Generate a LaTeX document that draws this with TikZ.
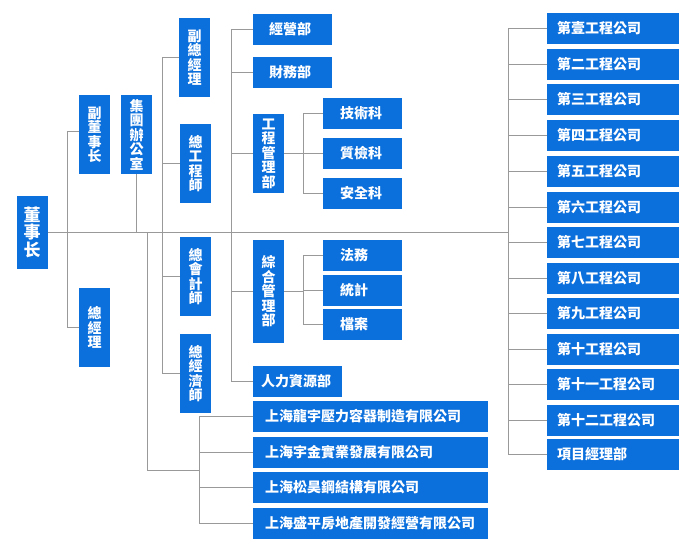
\documentclass[tikz,border=0pt]{standalone}
\usepackage{fontspec}
\newfontfamily\cjk{Noto Sans CJK TC}
\definecolor{boxblue}{RGB}{11,111,220}
\definecolor{linegray}{RGB}{153,153,153}
\tikzset{
  box/.style={fill=boxblue, text=white, inner sep=0pt, minimum height=31pt,
    font=\cjk\bfseries\fontsize{14}{14}\selectfont},
  vbox/.style={box, minimum width=31pt, minimum height=79pt, align=center,
    font=\cjk\bfseries\fontsize{14}{14.5}\selectfont},
  lbox/.style 2 args={box, text width=#1, inner xsep=#2, align=left},
  conn/.style={draw=linegray, line width=1pt},
}
\begin{document}
\begin{tikzpicture}[x=1pt,y=-1pt]
\fill[white] (0,0) rectangle (696,552);
\useasboundingbox (0,0) rectangle (696,552);

% vertical boxes
\node[vbox, minimum height=73pt, font=\cjk\bfseries\fontsize{17}{17.5}\selectfont] (dsz) at (32,232) {董\\事\\长};
\node[vbox] (fdsz) at (94.5,134.5) {副\\董\\事\\长};
\node[vbox] (jtbgs) at (136.5,134.5) {集\\團\\辦\\公\\室};
\node[vbox] (zjl) at (94.5,327.5) {總\\經\\理};
\node[vbox] (fzjl) at (194.5,57.5) {副\\總\\經\\理};
\node[vbox] (zgcs) at (195.5,163.5) {總\\工\\程\\師};
\node[vbox] (zkjs) at (195.5,276.5) {總\\會\\計\\師};
\node[vbox] (zjjs) at (195.5,373.5) {總\\經\\濟\\師};
\node[vbox] (gcglb) at (268.5,153.5) {工\\程\\管\\理\\部};
\node[vbox, minimum height=103pt] (zhglb) at (268.5,291.5) {綜\\合\\管\\理\\部};

% departments
\node[lbox={47pt}{16pt}] (jyb) at (292.5,29) {經營部};
\node[lbox={47pt}{16pt}] (cwb) at (292.5,72.5) {財務部};
\node[lbox={45pt}{17pt}] (jsk) at (362.5,113.5) {技術科};
\node[lbox={45pt}{17pt}] (zjk) at (362.5,153.5) {質檢科};
\node[lbox={45pt}{17pt}] (aqk) at (362.5,193.5) {安全科};
\node[lbox={45pt}{17pt}] (fw) at (362.5,255.5) {法務};
\node[lbox={45pt}{17pt}] (tj) at (362.5,290.5) {統計};
\node[lbox={45pt}{17pt}] (da) at (362.5,324.5) {檔案};
\node[lbox={73pt}{8pt}] (rlzyb) at (297.5,381.5) {人力資源部};

% subsidiaries
\node[lbox={211pt}{12pt}] (c1) at (370.5,416.5) {上海龍宇壓力容器制造有限公司};
\node[lbox={211pt}{12pt}] (c2) at (370.5,452.5) {上海宇金實業發展有限公司};
\node[lbox={211pt}{12pt}] (c3) at (370.5,487.5) {上海松昊鋼結構有限公司};
\node[lbox={211pt}{12pt}] (c4) at (370.5,523.5) {上海盛平房地產開發經營有限公司};

% engineering companies
\node[lbox={112pt}{10pt}] (r1) at (613,28.5) {第壹工程公司};
\node[lbox={112pt}{10pt}] (r2) at (613,64.5) {第二工程公司};
\node[lbox={112pt}{10pt}] (r3) at (613,99.5) {第三工程公司};
\node[lbox={112pt}{10pt}] (r4) at (613,135.5) {第四工程公司};
\node[lbox={112pt}{10pt}] (r5) at (613,171.5) {第五工程公司};
\node[lbox={112pt}{10pt}] (r6) at (613,207.5) {第六工程公司};
\node[lbox={112pt}{10pt}] (r7) at (613,242.5) {第七工程公司};
\node[lbox={112pt}{10pt}] (r8) at (613,278.5) {第八工程公司};
\node[lbox={112pt}{10pt}] (r9) at (613,313.5) {第九工程公司};
\node[lbox={112pt}{10pt}] (r10) at (613,349.5) {第十工程公司};
\node[lbox={112pt}{10pt}] (r11) at (613,384.5) {第十一工程公司};
\node[lbox={112pt}{10pt}] (r12) at (613,420.5) {第十二工程公司};
\node[lbox={112pt}{10pt}] (r13) at (613,454.5) {項目經理部};

% junctions
\coordinate (m67) at (67,232);
\coordinate (m147) at (147,232);
\coordinate (m162) at (162,232);
\coordinate (m231) at (231,232);
\coordinate (m508) at (508,232);
\coordinate (cb) at (147,470);
\coordinate (cj) at (199,470);
\coordinate (g303) at (303,153.5);
\coordinate (h303) at (303,291.5);

% connectors
\draw[conn] (dsz.east) -- (m508);
\draw[conn] ([yshift=3.5pt]fdsz.west) -| (m67);
\draw[conn] (zjl.west) -| (m67);
\draw[conn] (jtbgs.south) -- (jtbgs.south |- m67);
\draw[conn] (m147) -- (cb) -- (cj);
\foreach \n in {c1,c2,c3,c4} \draw[conn] (\n.west) -| (cj);
\foreach \n in {fzjl,zgcs,zkjs,zjjs} \draw[conn] (\n.west) -| (m162);
\foreach \n in {jyb,cwb,gcglb,zhglb,rlzyb} \draw[conn] (\n.west) -| (m231);
\draw[conn] (gcglb.east) -- (zjk.west);
\foreach \n in {jsk,aqk} \draw[conn] (\n.west) -| (g303);
\draw[conn] (zhglb.east) -- (h303);
\foreach \n in {fw,tj,da} \draw[conn] (\n.west) -| (h303);
\foreach \n in {r1,r2,r3,r4,r5,r6,r7,r8,r9,r10,r11,r12,r13} \draw[conn] (\n.west) -| (m508);
\end{tikzpicture}
\end{document}
